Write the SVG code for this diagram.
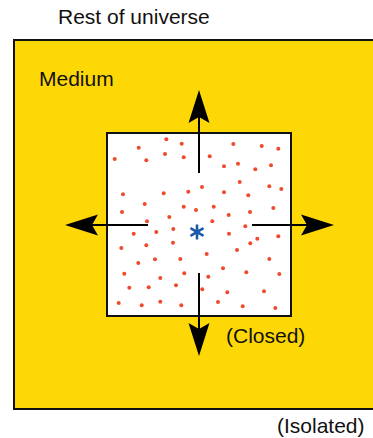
<svg xmlns="http://www.w3.org/2000/svg" width="373" height="438" viewBox="0 0 373 438">
<style>
text{font-family:"Liberation Sans",Arial,sans-serif;font-size:21px;fill:#111}
.dot{fill:#EF4A2C}
.arr{stroke:#000;stroke-width:2;fill:none}
</style>
<defs>
<marker id="ah" viewBox="-14 -11 36 22" refX="0" refY="0" markerWidth="36" markerHeight="22" markerUnits="userSpaceOnUse" orient="auto">
<path d="M20,0 L-13,-10.5 L-7,0 L-13,10.5 Z" fill="#000"/>
</marker>
</defs>
<rect width="373" height="438" fill="#fff"/>
<g id="universe">
<text x="58" y="24">Rest of universe</text>
<text x="277" y="433">(Isolated)</text>
</g>
<g id="medium">
<rect x="14" y="40" width="380" height="369" fill="#FED806" stroke="#111" stroke-width="2"/>
<text x="39" y="86">Medium</text>
</g>
<g id="system">
<rect x="107" y="133" width="184" height="183" fill="#fff" stroke="#111" stroke-width="2"/>
<g class="dots">
<circle class="dot" cx="166.3" cy="139.3" r="2"/><circle class="dot" cx="181.7" cy="143.7" r="2"/><circle class="dot" cx="138.7" cy="147.7" r="2"/><circle class="dot" cx="165" cy="154" r="2"/><circle class="dot" cx="183.7" cy="157.3" r="2"/><circle class="dot" cx="114.7" cy="159" r="2"/><circle class="dot" cx="146.3" cy="160.3" r="2"/><circle class="dot" cx="233.3" cy="144" r="2"/><circle class="dot" cx="261.7" cy="146" r="2"/><circle class="dot" cx="278.3" cy="148.7" r="2"/><circle class="dot" cx="209.7" cy="156.3" r="2"/><circle class="dot" cx="238" cy="163.7" r="2"/><circle class="dot" cx="224" cy="166.3" r="2"/><circle class="dot" cx="271" cy="165.3" r="2"/><circle class="dot" cx="255.3" cy="169.3" r="2"/><circle class="dot" cx="239.7" cy="182" r="2"/><circle class="dot" cx="202" cy="187" r="2"/><circle class="dot" cx="188.3" cy="191.7" r="2"/><circle class="dot" cx="163.7" cy="193.3" r="2"/><circle class="dot" cx="123" cy="194.3" r="2"/><circle class="dot" cx="224" cy="192.3" r="2"/><circle class="dot" cx="248.3" cy="195.3" r="2"/><circle class="dot" cx="269.3" cy="186.3" r="2"/><circle class="dot" cx="281.3" cy="189" r="2"/><circle class="dot" cx="144.7" cy="204" r="2"/><circle class="dot" cx="183.7" cy="206.7" r="2"/><circle class="dot" cx="196" cy="210" r="2"/><circle class="dot" cx="213.7" cy="206.7" r="2"/><circle class="dot" cx="122" cy="212" r="2"/><circle class="dot" cx="250" cy="212" r="2"/><circle class="dot" cx="273.3" cy="208" r="2"/><circle class="dot" cx="228.7" cy="215" r="2"/><circle class="dot" cx="169.3" cy="217" r="2"/><circle class="dot" cx="147" cy="221.3" r="2"/><circle class="dot" cx="212.3" cy="221.3" r="2"/><circle class="dot" cx="245.3" cy="226.3" r="2"/><circle class="dot" cx="173.3" cy="229" r="2"/><circle class="dot" cx="156.3" cy="232" r="2"/><circle class="dot" cx="133.7" cy="233.7" r="2"/><circle class="dot" cx="229" cy="233.7" r="2"/><circle class="dot" cx="278.3" cy="236.3" r="2"/><circle class="dot" cx="257.3" cy="238.7" r="2"/><circle class="dot" cx="250.3" cy="243.3" r="2"/><circle class="dot" cx="173" cy="242.7" r="2"/><circle class="dot" cx="146.3" cy="245.3" r="2"/><circle class="dot" cx="121.3" cy="248" r="2"/><circle class="dot" cx="237" cy="250" r="2"/><circle class="dot" cx="206.7" cy="254" r="2"/><circle class="dot" cx="180.3" cy="259" r="2"/><circle class="dot" cx="155" cy="259.3" r="2"/><circle class="dot" cx="269.3" cy="259" r="2"/><circle class="dot" cx="138.3" cy="263" r="2"/><circle class="dot" cx="223" cy="268.3" r="2"/><circle class="dot" cx="246.3" cy="272.3" r="2"/><circle class="dot" cx="279.3" cy="274" r="2"/><circle class="dot" cx="184.3" cy="273.3" r="2"/><circle class="dot" cx="124.3" cy="273.7" r="2"/><circle class="dot" cx="208.3" cy="276.7" r="2"/><circle class="dot" cx="160.3" cy="278" r="2"/><circle class="dot" cx="176" cy="285.3" r="2"/><circle class="dot" cx="129.3" cy="287.7" r="2"/><circle class="dot" cx="148.7" cy="287.3" r="2"/><circle class="dot" cx="202.3" cy="289.3" r="2"/><circle class="dot" cx="227.3" cy="292.3" r="2"/><circle class="dot" cx="264" cy="291.3" r="2"/><circle class="dot" cx="118.7" cy="303" r="2"/><circle class="dot" cx="141.7" cy="305.3" r="2"/><circle class="dot" cx="160.3" cy="301.7" r="2"/><circle class="dot" cx="181.3" cy="305.3" r="2"/><circle class="dot" cx="218" cy="302" r="2"/><circle class="dot" cx="242.7" cy="306.3" r="2"/><circle class="dot" cx="275.3" cy="308" r="2"/>
</g>
<g id="star" stroke="#1B5AA8" stroke-width="2.6" stroke-linecap="butt">
<line x1="197" y1="224.5" x2="197" y2="239.5"/>
<line x1="190.5" y1="228.2" x2="203.5" y2="235.8"/>
<line x1="190.5" y1="235.8" x2="203.5" y2="228.2"/>
</g>
<text x="226" y="343">(Closed)</text>
</g>
<g id="connectors">
<line class="arr" x1="199" y1="173" x2="199" y2="110" marker-end="url(#ah)"/>
<line class="arr" x1="199" y1="273" x2="199" y2="336" marker-end="url(#ah)"/>
<line class="arr" x1="148" y1="225" x2="85" y2="225" marker-end="url(#ah)"/>
<line class="arr" x1="252" y1="225" x2="314" y2="225" marker-end="url(#ah)"/>
</g>
</svg>
